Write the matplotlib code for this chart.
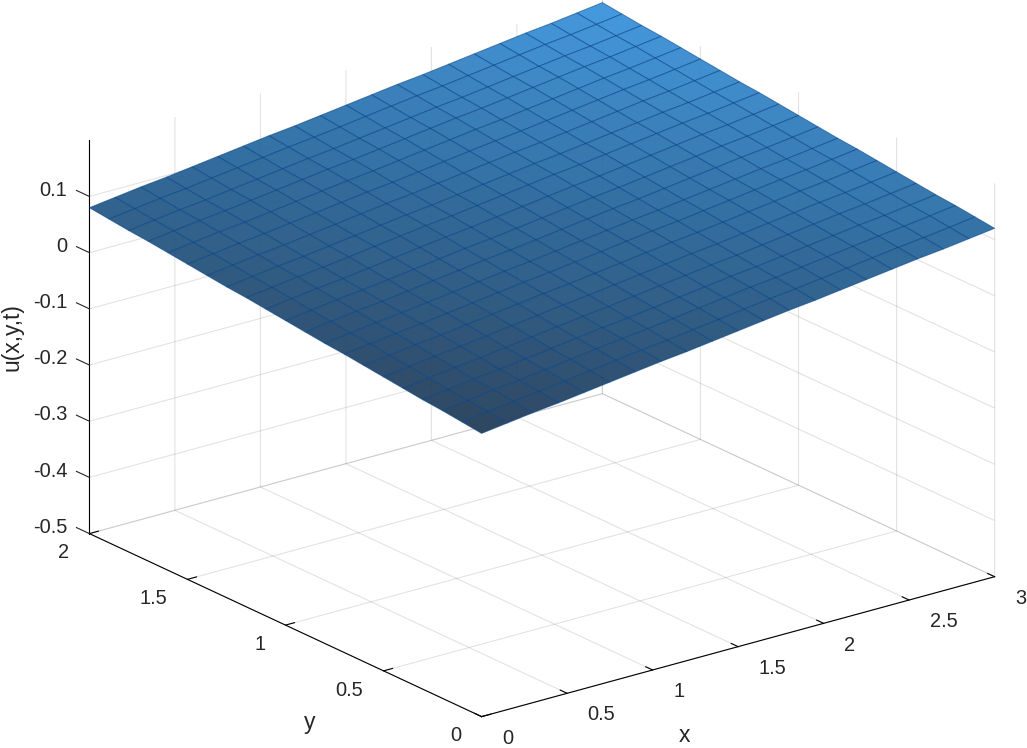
import numpy as np
import matplotlib as mpl
mpl.use("Agg")
import matplotlib.pyplot as plt
from matplotlib.colors import LinearSegmentedColormap
from mpl_toolkits.mplot3d import proj3d

mpl.rcParams['font.family'] = ['Liberation Sans', 'DejaVu Sans']
mpl.rcParams['font.size'] = 14.4
mpl.rcParams['axes3d.automargin'] = False

#-- values
x_grid = [0.0, 0.15, 0.3, 0.45, 0.6, 0.75, 0.9, 1.05, 1.2, 1.35, 1.5,
          1.65, 1.8, 1.95, 2.1, 2.25, 2.4, 2.55, 2.7, 2.85, 3.0]
y_grid = [0.0, 0.1, 0.2, 0.3, 0.4, 0.5, 0.6, 0.7, 0.8, 0.9, 1.0,
          1.1, 1.2, 1.3, 1.4, 1.5, 1.6, 1.7, 1.8, 1.9, 2.0]
#-- u along the y=0 edge and along the x=0 edge
u_along_x = [0.004, 0.010, 0.016, 0.021, 0.027, 0.033, 0.039, 0.045, 0.050, 0.056, 0.062,
             0.068, 0.074, 0.079, 0.085, 0.091, 0.097, 0.103, 0.108, 0.114, 0.120]
u_along_y = [0.004, 0.008, 0.012, 0.015, 0.019, 0.023, 0.027, 0.031, 0.034, 0.038, 0.042,
             0.046, 0.050, 0.053, 0.057, 0.061, 0.065, 0.069, 0.072, 0.076, 0.080]

x_ticks = [0, 0.5, 1, 1.5, 2, 2.5, 3]
y_ticks = [0, 0.5, 1, 1.5, 2]
z_ticks = [-0.5, -0.4, -0.3, -0.2, -0.1, 0, 0.1]
x_ticklabels = ['0', '0.5', '1', '1.5', '2', '2.5', '3']
y_ticklabels = ['0', '0.5', '1', '1.5', '2']
z_ticklabels = ['-0.5', '-0.4', '-0.3', '-0.2', '-0.1', '0', '0.1']

W, H = 1027, 748
side = 1100
tc = '#262626'
fig = plt.figure(figsize=(W/100, H/100), dpi=100)
ax = fig.add_axes([(542 - 0.5135*side)/W, (389.5 - 0.5135*side)/H, side/W, side/H],
                  projection='3d', proj_type='ortho')
ax.set_box_aspect((1, 1, 0.652), zoom=0.8875)
ax.view_init(elev=20.9, azim=-127.4)

X, Y = np.meshgrid(x_grid, y_grid)
U = np.add.outer(np.array(u_along_y), np.array(u_along_x)) - u_along_x[0]

cmap = LinearSegmentedColormap.from_list('u', ['#26405c', '#2a6699', '#3f99e3'])
colors = cmap((U - U.min())/(U.max() - U.min()))
colors[..., 3] = 0.96
ax.plot_surface(X, Y, U, facecolors=colors, rstride=1, cstride=1, shade=False,
                edgecolor=(0.0, 0.25, 0.52, 0.55), linewidth=0.7, antialiased=True)

ax.set_xlim(0, 3)
ax.set_ylim(0, 2)
ax.set_zlim(-0.5, 0.2)
ax.set_xticks(x_ticks, [])
ax.set_yticks(y_ticks, [])
ax.set_zticks(z_ticks, [])

for axis in (ax.xaxis, ax.yaxis, ax.zaxis):
    axis.set_pane_color((1, 1, 1, 0))
    axis.pane.set_edgecolor((1, 1, 1, 0))
    axis._axinfo['grid']['color'] = (0.15, 0.15, 0.15, 0.13)
    axis._axinfo['grid']['linewidth'] = 0.8
    axis._axinfo['axisline']['color'] = (0.15, 0.15, 0.15, 1)
    axis._axinfo['axisline']['linewidth'] = 0.8
    axis._axinfo['tick']['color'] = tc
    axis._axinfo['tick']['linewidth'] = {True: 0.8, False: 0.8}
    axis._axinfo['tick']['inward_factor'] = 0.0
    axis._axinfo['tick']['outward_factor'] = 0.22
#-- z ticks point along y in the reference, mplot3d would draw them along x
ax.zaxis._axinfo['tick']['outward_factor'] = 0.0
for z in z_ticks:
    ax.plot([0, 0], [2, 2.066], [z, z], color=tc, lw=0.8)


def label3d(x, y, z, s, **kw):
    #-- project by hand so the label is a normal 2D text
    px, py, _ = proj3d.proj_transform(x, y, z, ax.get_proj())
    ax.text2D(px, py, s, transform=ax.transData, va='center', color=tc, **kw)


for x, lab in zip(x_ticks, x_ticklabels):
    label3d(x, -0.105, -0.5215, lab, ha='left')
for y, lab in zip(y_ticks, y_ticklabels):
    label3d(-0.118, y, -0.5245, lab, ha='right')
for z, lab in zip(z_ticks, z_ticklabels):
    label3d(0, 2.112, z - 0.007, lab, ha='right')

fig.text(684/W, 1 - 735/H, 'x', ha='center', va='center', color=tc, size=16.5)
fig.text(310/W, 1 - 723/H, 'y', ha='center', va='center', color=tc, size=16.5)
fig.text(12/W, 1 - 337/H, 'u(x,y,t)', ha='center', va='center', rotation='vertical', color=tc, size=16.5)

fig.savefig('out.png', dpi=100)
